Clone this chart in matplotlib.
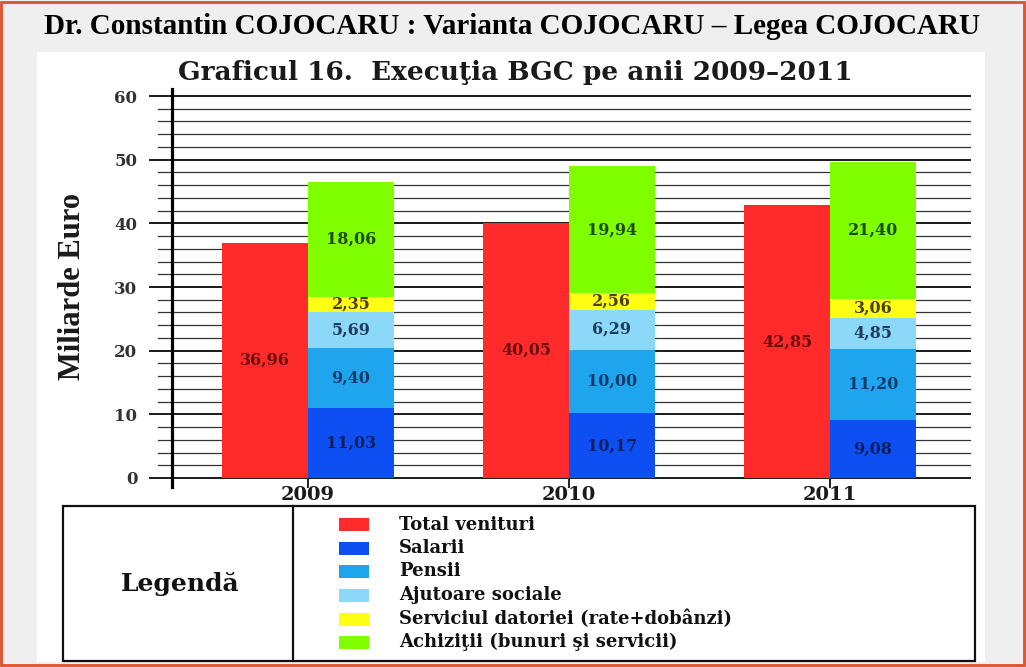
import matplotlib
matplotlib.use("Agg")
import numpy as np
import matplotlib.pyplot as plt
from matplotlib.patches import Rectangle
from matplotlib.lines import Line2D

# data (miliarde euro)
years = ["2009", "2010", "2011"]
total_venituri = [36.96, 40.05, 42.85]
salarii = [11.03, 10.17, 9.08]
pensii = [9.40, 10.00, 11.20]
ajutoare = [5.69, 6.29, 4.85]
datorie = [2.35, 2.56, 3.06]
achizitii = [18.06, 19.94, 21.40]

legend_labels = ["Total venituri", "Salarii", "Pensii", "Ajutoare sociale",
                 "Serviciul datoriei (rate+dobânzi)", "Achiziţii (bunuri şi servicii)"]
colors = ["#ff2a2a", "#0d4ff2", "#1fa5ee", "#8cd8f8", "#ffff14", "#7fff00"]
text_colors = ["#6b0d0d", "#0c1f5a", "#103c6b", "#1d3d5e", "#4d4010", "#1e4a0e"]

W, H = 1026, 667
SERIF = "DejaVu Serif"


def fx(px):
    return px / W


def fy(py):
    return 1 - py / H


fig = plt.figure(figsize=(W / 100, H / 100), dpi=100, facecolor="#efefef")

# page frame + white panel
fig.add_artist(Rectangle((fx(37), fy(662)), fx(985 - 37), (662 - 52) / H,
                         transform=fig.transFigure, facecolor="white",
                         edgecolor="none", zorder=0))
fig.add_artist(Rectangle((fx(1), fy(665)), fx(1023), 663 / H,
                         transform=fig.transFigure, fill=False,
                         edgecolor="#e0502a", linewidth=2, zorder=5))

fig.text(fx(512), fy(34), "Dr. Constantin COJOCARU : Varianta COJOCARU – Legea COJOCARU",
         ha="center", va="baseline", fontsize=21, fontweight="bold",
         family="Liberation Serif")
fig.text(fx(515), fy(80), "Graficul 16.  Execuţia BGC pe anii 2009–2011",
         ha="center", va="baseline", fontsize=19, fontweight="bold", family=SERIF,
         color="#1a1a1a")
fig.text(fx(72), fy(287), "Miliarde Euro", rotation=90, ha="center", va="center",
         fontsize=22, fontweight="bold", family="Liberation Serif", color="#1a1a1a")

# axes
ax = fig.add_axes([fx(172), fy(478), fx(970 - 172), (478 - 89) / H])
ax.set_facecolor("none")
ax.set_xlim(-0.521, 2.536)
ax.set_ylim(0, 61.1)

x = np.arange(len(years))
w = 0.328

for v in range(0, 61, 2):
    if v % 10 == 0:
        ax.axhline(v, xmin=-0.0276, xmax=1, color="#1a1a1a", lw=1.4, clip_on=False, zorder=1)
    else:
        ax.axhline(v, xmin=-0.0175, xmax=1, color="#333333", lw=0.9, clip_on=False, zorder=1)

ax.bar(x - w / 2, total_venituri, w, color=colors[0], zorder=2)
for xi, v in zip(x, total_venituri):
    ax.text(xi - w / 2, v / 2, f"{v:.2f}".replace(".", ","), ha="center", va="center",
            fontsize=11.5, fontweight="bold", family=SERIF, color=text_colors[0], zorder=3)

bottom = np.zeros(len(years))
for vals, c, tc in zip([salarii, pensii, ajutoare, datorie, achizitii],
                       colors[1:], text_colors[1:]):
    ax.bar(x + w / 2, vals, w, bottom=bottom, color=c, zorder=2)
    for xi, b, v in zip(x, bottom, vals):
        ax.text(xi + w / 2, b + v / 2, f"{v:.2f}".replace(".", ","), ha="center",
                va="center", fontsize=11.5, fontweight="bold", family=SERIF,
                color=tc, zorder=3)
    bottom += np.array(vals)

for s in ["top", "right", "bottom"]:
    ax.spines[s].set_visible(False)
ax.spines["left"].set_linewidth(2.3)
ax.spines["left"].set_bounds(-1.4, 61.1)
ax.spines["left"].set_zorder(4)

ax.set_yticks(range(0, 61, 10))
ax.set_yticklabels([str(v) for v in range(0, 61, 10)], fontsize=12,
                   fontweight="bold", family=SERIF, color="#333333")
ax.tick_params(axis="y", length=0, pad=25)
ax.set_xticks(x)
ax.set_xticklabels(years, fontsize=14, fontweight="bold", family=SERIF, color="#1a1a1a")
ax.tick_params(axis="x", length=7.2, width=1.4, color="#222222", pad=-1.5)

# legend box
fig.add_artist(Rectangle((fx(63), fy(661)), fx(975 - 63), (661 - 506) / H,
                         transform=fig.transFigure, fill=False, edgecolor="#111111",
                         linewidth=1.6, zorder=3))
fig.add_artist(Line2D([fx(293), fx(293)], [fy(661), fy(506)], color="#111111",
                      linewidth=1.6, zorder=3))
fig.text(fx(180), fy(584), "Legendă", ha="center", va="center", fontsize=18,
         fontweight="bold", family=SERIF, color="#111111")

rows = [524.5, 548, 571.5, 595, 619, 642]
for ry, lab, c in zip(rows, legend_labels, colors):
    fig.add_artist(Rectangle((fx(339), fy(ry + 6.5)), fx(30), 13 / H,
                             transform=fig.transFigure, facecolor=c,
                             edgecolor="none", zorder=3))
    fig.text(fx(399), fy(ry), lab, ha="left", va="center", fontsize=13,
             fontweight="bold", family=SERIF, color="#111111")

fig.savefig("out.png", dpi=100, facecolor=fig.get_facecolor())
